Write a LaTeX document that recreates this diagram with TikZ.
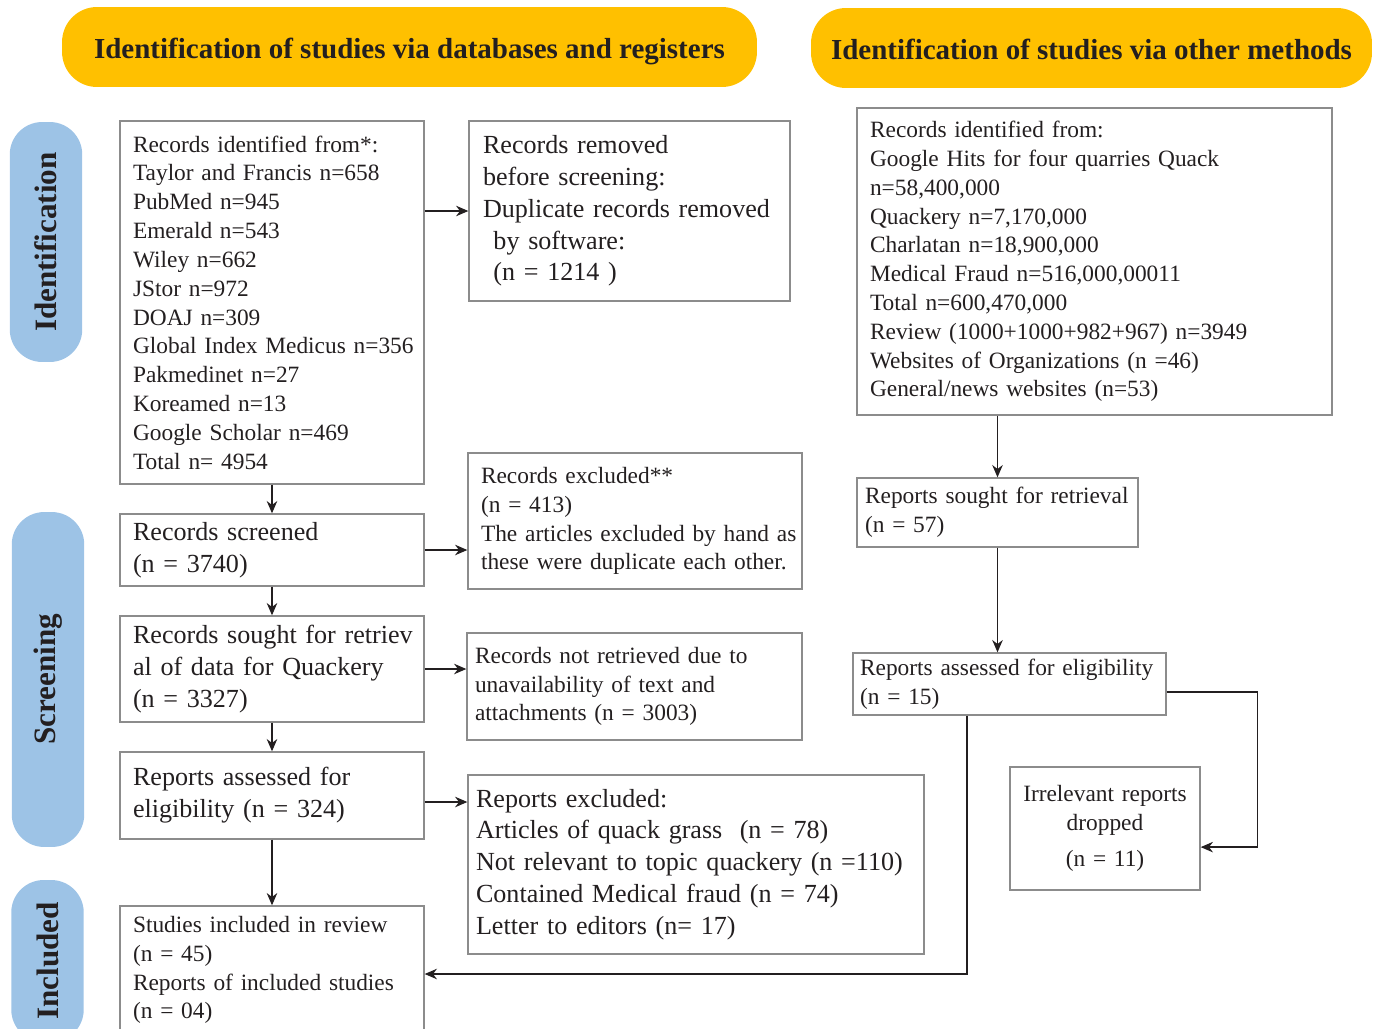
\documentclass[tikz,border=0pt]{standalone}
\usepackage{fontspec}
\setmainfont{Liberation Serif}
\usetikzlibrary{arrows.meta}
\definecolor{headgold}{HTML}{FFC000}
\definecolor{phaseblue}{HTML}{9DC3E6}
\definecolor{boxgray}{HTML}{8C8C8C}
\definecolor{txt}{HTML}{231F20}
\newcommand{\fsmall}{\fontsize{13.3}{16.4}\selectfont}
\newcommand{\fbig}{\fontsize{14.85}{18.1}\selectfont}
\newcommand{\fhead}{\fontsize{16.5}{19}\selectfont\bfseries}
\newcommand{\fphase}{\fontsize{17.7}{20}\selectfont\bfseries}
\begin{document}
\begin{tikzpicture}[x = 0.02cm, y = -0.02cm,
        box/.style = {draw = boxgray, line width = 0.8pt, inner xsep = 0.26cm, inner ysep = 0pt, align = left, text = txt},
        head/.style = {fill = headgold, rounded corners = 0.7cm, minimum height = 1.6cm, text height = 1.6em, text depth = 0.25em, text = txt, font = \fhead},
        phase/.style = {fill = phaseblue, rounded corners = 0.65cm, rotate = 90, minimum height = 1.45cm, text = txt, font = \fphase},
        arr/.style = {draw = txt, line width = 0.7pt, -{Stealth[length = 7pt, width = 6pt]}}]
            %\draw[lightgray] (0, 0) grid[step = 100] (1375, 1028);
            \useasboundingbox (0, 0) rectangle (1375, 1028);

            \node[head, minimum width = 13.9cm] (hd1) at (409.5, 47) {Identification of studies via databases and registers};
            \node[head, minimum width = 11.22cm] (hd2) at (1091.5, 48) {Identification of studies via other methods};

            \node[phase, minimum width = 4.8cm] (ph1) at (46, 242) {Identification};
            \node[phase, minimum width = 6.7cm] (ph2) at (48, 679.5) {Screening};
            \node[phase, minimum width = 3.24cm] (ph3) at (47.5, 961) {Included};

            \node[box, font = \fsmall, text width = 5.56cm, minimum height = 7.26cm] (b1) at (272, 302.5) {Records identified from*:\\Taylor and Francis n=658\\PubMed n=945\\Emerald n=543\\Wiley n=662\\JStor n=972\\DOAJ n=309\\\mbox{Global Index Medicus n=356}\\Pakmedinet n=27\\Koreamed n=13\\Google Scholar n=469\\Total n= 4954};
            \node[box, font = \fbig, text width = 5.56cm, minimum height = 1.44cm] (b2) at (272, 550) {Records screened\\(n = 3740)};
            \node[box, font = \fbig, text width = 5.56cm, minimum height = 2.12cm] (b3) at (272, 669) {\mbox{Records sought for retriev}\\\mbox{al of data for Quackery}\\(n = 3327)};
            \node[box, font = \fbig, text width = 5.56cm, minimum height = 1.74cm] (b4) at (272, 795.5) {Reports assessed for\\eligibility (n = 324)};
            \node[box, font = \fsmall, text width = 5.56cm, minimum height = 2.56cm] (b5) at (272, 970) {Studies included in review\\(n = 45)\\Reports of included studies\\(n = 04)};

            \node[box, font = \fbig, inner xsep = 0.28cm, text width = 5.86cm, minimum height = 3.6cm] (r1) at (629.5, 211) {Records removed\\before screening:\\\mbox{Duplicate records removed}\\\hspace{0.4em}by software:\\\hspace{0.4em}(n = 1214 )};
            \node[box, font = \fsmall, text width = 6.16cm, minimum height = 2.72cm] (r2) at (635, 521) {Records excluded**\\(n = 413)\\\mbox{The articles excluded by hand as}\\\mbox{these were duplicate each other.}};
            \node[box, font = \fsmall, inner xsep = 0.16cm, text width = 6.38cm, minimum height = 2.14cm] (r3) at (634.5, 686.5) {Records not retrieved due to\\unavailability of text and\\attachments (n = 3003)};
            \node[box, font = \fbig, inner xsep = 0.16cm, text width = 8.8cm, minimum height = 3.58cm] (r4) at (696, 864.5) {Reports excluded:\\Articles of quack grass~ (n = 78)\\\mbox{Not relevant to topic quackery (n =110)}\\Contained Medical fraud (n = 74)\\Letter to editors (n= 17)};

            \node[box, font = \fsmall, text width = 8.98cm, minimum height = 6.14cm] (o1) at (1094.5, 261.5) {Records identified from:\\Google Hits for four quarries Quack\\n=58,400,000\\Quackery n=7,170,000\\Charlatan n=18,900,000\\Medical Fraud n=516,000,00011\\Total n=600,470,000\\\mbox{Review (1000+1000+982+967) n=3949}\\Websites of Organizations (n =46)\\General/news websites (n=53)};
            \node[box, font = \fsmall, inner xsep = 0.16cm, text width = 5.3cm, minimum height = 1.38cm] (o2) at (997.5, 512.5) {\mbox{Reports sought for retrieval}\\(n = 57)};
            \node[box, font = \fsmall, inner xsep = 0.14cm, text width = 5.98cm, minimum height = 1.24cm] (o3) at (1009.5, 684) {\mbox{Reports assessed for eligibility}\\(n = 15)};
            \node[box, font = \fsmall, align = center, text width = 3.28cm, minimum height = 2.46cm] (o4) at (1105, 828.5) {Irrelevant reports\\dropped\\[0.15cm](n = 11)};

            \draw[arr] (b1.east |- r1.west) -- (r1.west);
            \draw[arr] (b1.south) -- (b2.north);
            \draw[arr] (b2.east) -- (b2.east -| r2.west);
            \draw[arr] (b2.south) -- (b3.north);
            \draw[arr] (b3.east) -- (b3.east -| r3.west);
            \draw[arr] (b3.south) -- (b4.north);
            \draw[arr] ([yshift = -0.13cm]b4.east) -- ([yshift = -0.13cm]b4.east -| r4.west);
            \draw[arr] (b4.south) -- (b5.north);

            \draw[arr] (o1.south -| o2.north) -- (o2.north);
            \draw[arr] (o2.south) -- (o2.south |- o3.north);
            \draw[arr] ([yshift = -0.16cm]o3.east) -- ++(91, 0) |- (o4.-11);
            \draw[arr] ([xshift = -0.85cm]o3.south) |- ([yshift = -0.08cm]b5.east);
\end{tikzpicture}
\end{document}
